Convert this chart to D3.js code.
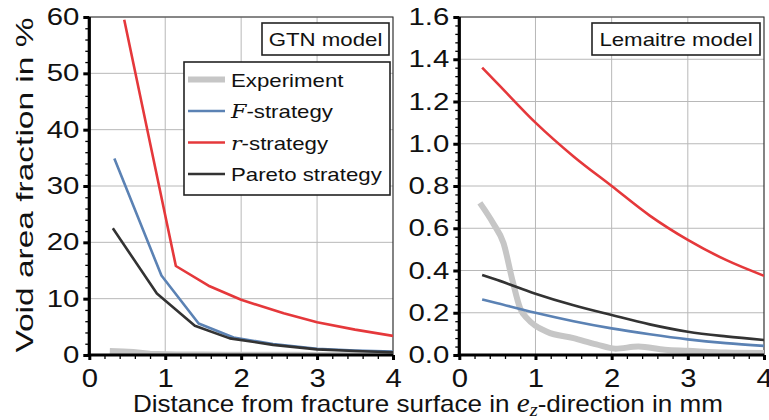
<!DOCTYPE html>
<html>
<head>
<meta charset="utf-8">
<script src="https://cdn.jsdelivr.net/npm/d3@7"></script>
<style>
  html, body { margin: 0; padding: 0; background: #fff; }
  svg { display: block; font-family: "Liberation Sans", Arial, sans-serif; }
</style>
</head>
<body>
<svg id="chart" width="769" height="420"></svg>
<script>
// ---- data -------------------------------------------------------------
const xTickValues = [0, 1, 2, 3, 4];
const gtnTickValues = [0, 10, 20, 30, 40, 50, 60];
const lemTickValues = [0, 0.2, 0.4, 0.6, 0.8, 1.0, 1.2, 1.4, 1.6];

// experimental void area fraction (%), shared by both panels
const expDist = [0.27, 0.45, 0.58, 0.70, 0.80, 0.90, 1.15, 1.50, 1.80, 2.05, 2.35, 2.70, 3.00, 3.50, 4.00];
const expVoid = [0.72, 0.62, 0.53, 0.35, 0.22, 0.17, 0.11, 0.08, 0.05, 0.03, 0.04, 0.025, 0.02, 0.012, 0.01];

// GTN model
const gtnFDist = [0.33, 0.95, 1.44, 1.90, 2.42, 3.00, 3.50, 4.00];
const gtnFVoid = [34.9, 14.1, 5.6, 3.1, 1.95, 1.1, 0.8, 0.6];
const gtnRDist = [0.46, 1.14, 1.57, 2.00, 2.56, 3.00, 3.50, 4.00];
const gtnRVoid = [59.5, 15.8, 12.3, 9.8, 7.4, 5.8, 4.5, 3.4];
const gtnPDist = [0.31, 0.89, 1.39, 1.85, 2.42, 3.00, 3.50, 4.00];
const gtnPVoid = [22.5, 10.9, 5.2, 2.95, 1.8, 1.0, 0.7, 0.5];

// Lemaitre model
const lemDist = [0.30, 0.50, 1.00, 1.50, 2.00, 2.50, 3.00, 3.50, 4.00];
const lemRVoid = [1.36, 1.286, 1.10, 0.94, 0.80, 0.66, 0.545, 0.45, 0.375];
const lemFVoid = [0.263, 0.245, 0.20, 0.16, 0.126, 0.098, 0.074, 0.056, 0.043];
const lemPVoid = [0.379, 0.355, 0.29, 0.235, 0.189, 0.145, 0.11, 0.088, 0.071];

const colors = { exp: "#c6c6c6", F: "#5b82b4", r: "#e5383b", pareto: "#333333" };

// ---- helpers ----------------------------------------------------------
const svg = d3.select("#chart");
const zip = (xs, ys) => xs.map((x, i) => [x, ys[i]]);
const TEXT = "#111";
const WIDE = 1.17;           // horizontal widening of the lettering

function widen(sel, k = WIDE) {
  sel.each(function () {
    const w = this.getComputedTextLength();
    d3.select(this).attr("textLength", w * k).attr("lengthAdjust", "spacingAndGlyphs");
  });
}

// ---- panels -----------------------------------------------------------
function panel(cfg) {
  const x = d3.scaleLinear().domain([0, 4]).range([cfg.x0, cfg.x1]);
  const y = d3.scaleLinear().domain([0, cfg.yMax]).range([355, 17]);
  const g = svg.append("g");

  // grid
  g.append("g").selectAll("line").data(xTickValues.slice(1, -1)).join("line")
    .attr("x1", d => x(d)).attr("x2", d => x(d))
    .attr("y1", y(0)).attr("y2", y(cfg.yMax))
    .attr("stroke", "#b8b8b8").attr("stroke-width", 1);
  g.append("g").selectAll("line").data(cfg.yTicks.slice(1)).join("line")
    .attr("x1", x(0)).attr("x2", x(4))
    .attr("y1", d => y(d)).attr("y2", d => y(d))
    .attr("stroke", "#b8b8b8").attr("stroke-width", 1);

  // frame (top and right)
  g.append("path")
    .attr("d", `M${x(0)},${y(cfg.yMax)}H${x(4)}V${y(0)}`)
    .attr("fill", "none").attr("stroke", "#333").attr("stroke-width", 1.2);

  // clip for the data lines
  const clipId = "clip-" + cfg.id;
  svg.append("clipPath").attr("id", clipId).append("rect")
    .attr("x", x(0)).attr("y", y(cfg.yMax))
    .attr("width", x(4) - x(0)).attr("height", y(0) - y(cfg.yMax));

  const line = d3.line().x(d => x(d[0])).y(d => y(d[1])).curve(cfg.curve);
  const series = [
    { pts: zip(expDist, expVoid), c: colors.exp, w: 6 },
    { pts: cfg.F, c: colors.F, w: 2.6 },
    { pts: cfg.R, c: colors.r, w: 2.6 },
    { pts: cfg.P, c: colors.pareto, w: 2.6 }
  ];
  g.append("g").attr("clip-path", `url(#${clipId})`)
    .selectAll("path").data(series).join("path")
    .attr("d", d => line(d.pts))
    .attr("fill", "none")
    .attr("stroke", d => d.c)
    .attr("stroke-width", d => d.w)
    .attr("stroke-linejoin", "round");

  // axes
  const minorX = d3.range(0, 4.001, 0.2).filter(v => Math.abs(v - Math.round(v)) > 1e-6);
  const minorY = d3.range(0, cfg.yMax + 1e-9, cfg.yMinor)
    .filter(v => !cfg.yTicks.some(t => Math.abs(t - v) < 1e-9));

  g.append("g").attr("transform", `translate(0,${y(0)})`)
    .call(d3.axisBottom(x).tickValues(minorX).tickSize(4).tickFormat(""))
    .call(a => a.select(".domain").remove())
    .selectAll(".tick line").attr("stroke", "#000").attr("stroke-width", 1.3);
  g.append("g").attr("transform", `translate(${x(0)},0)`)
    .call(d3.axisLeft(y).tickValues(minorY).tickSize(4).tickFormat(""))
    .call(a => a.select(".domain").remove())
    .selectAll(".tick line").attr("stroke", "#000").attr("stroke-width", 1.3);

  const xAxis = g.append("g").attr("transform", `translate(0,${y(0)})`)
    .call(d3.axisBottom(x).tickValues(xTickValues).tickSize(5).tickPadding(9)
      .tickFormat(d3.format("d")));
  xAxis.selectAll(".tick line").attr("stroke", "#000").attr("stroke-width", 3);
  xAxis.selectAll(".tick text").attr("font-size", 25).attr("fill", TEXT)
    .attr("font-family", "Liberation Sans, Arial, sans-serif").call(widen);

  const yAxis = g.append("g").attr("transform", `translate(${x(0)},0)`)
    .call(d3.axisLeft(y).tickValues(cfg.yTicks).tickSize(6).tickPadding(4).tickFormat(cfg.fmt));
  yAxis.selectAll(".tick line").attr("stroke", "#000").attr("stroke-width", 3);
  yAxis.selectAll(".tick text").attr("font-size", 23.5).attr("fill", TEXT)
    .attr("font-family", "Liberation Sans, Arial, sans-serif").call(widen, 1.25);

  xAxis.select(".domain").attr("stroke", "#000").attr("stroke-width", 3.2)
    .attr("d", `M${x(0) - 1.5},0H${x(4)}`);
  yAxis.select(".domain").attr("stroke", "#000").attr("stroke-width", 3.2)
    .attr("d", `M0,${y(0) + 1.5}V${y(cfg.yMax)}`);

  // model label box
  const lb = g.append("g");
  lb.append("rect")
    .attr("x", cfg.box[0]).attr("y", 23).attr("width", cfg.box[1]).attr("height", 32)
    .attr("fill", "#fff").attr("stroke", "#222").attr("stroke-width", 1.6);
  lb.append("text")
    .attr("x", cfg.box[0] + cfg.box[1] / 2).attr("y", 46)
    .attr("text-anchor", "middle").attr("font-size", 19).attr("fill", TEXT)
    .text(cfg.label).call(widen);

  return { x, y, g };
}

panel({
  id: "gtn", x0: 89.3, x1: 393, yMax: 60, yTicks: gtnTickValues, yMinor: 2,
  fmt: d3.format("d"), curve: d3.curveLinear, label: "GTN model", box: [262, 127],
  F: zip(gtnFDist, gtnFVoid), R: zip(gtnRDist, gtnRVoid), P: zip(gtnPDist, gtnPVoid)
});

panel({
  id: "lem", x0: 459.3, x1: 764, yMax: 1.6, yTicks: lemTickValues, yMinor: 0.04,
  fmt: d3.format(".1f"), curve: d3.curveMonotoneX, label: "Lemaitre model", box: [592, 168],
  F: zip(lemDist, lemFVoid), R: zip(lemDist, lemRVoid), P: zip(lemDist, lemPVoid)
});

// ---- legend (inside the GTN panel) ------------------------------------
const legendItems = [
  { key: "exp", w: 6, parts: [["Experiment", false]] },
  { key: "F", w: 2.6, parts: [["F", true], ["-strategy", false]] },
  { key: "r", w: 2.6, parts: [["r", true], ["-strategy", false]] },
  { key: "pareto", w: 2.6, parts: [["Pareto strategy", false]] }
];
const lg = svg.append("g");
lg.append("rect").attr("x", 184).attr("y", 62).attr("width", 206).attr("height", 133)
  .attr("fill", "#fff").attr("stroke", "#222").attr("stroke-width", 1.6);
const rows = lg.selectAll("g.row").data(legendItems).join("g")
  .attr("transform", (d, i) => `translate(0,${79.5 + i * 31.5})`);
rows.append("line").attr("x1", 188).attr("x2", 225).attr("y1", 0).attr("y2", 0)
  .attr("stroke", d => colors[d.key]).attr("stroke-width", d => d.w);
const lt = rows.append("text").attr("x", 231).attr("y", 7).attr("font-size", 19).attr("fill", TEXT);
lt.selectAll("tspan").data(d => d.parts).join("tspan")
  .attr("font-family", d => d[1] ? "DejaVu Serif, Liberation Serif, serif" : null)
  .attr("font-style", d => d[1] ? "italic" : null)
  .text(d => d[0]);
lt.call(widen);

// ---- axis titles ------------------------------------------------------
svg.append("text")
  .attr("transform", "translate(33,185) rotate(-90)")
  .attr("text-anchor", "middle").attr("font-size", 24.5).attr("fill", TEXT)
  .attr("textLength", 335).attr("lengthAdjust", "spacingAndGlyphs")
  .text("Void area fraction in %");

const xt = svg.append("text")
  .attr("x", 428).attr("y", 411.5).attr("text-anchor", "middle")
  .attr("font-size", 24).attr("fill", TEXT)
  .attr("textLength", 590).attr("lengthAdjust", "spacingAndGlyphs");
xt.append("tspan").text("Distance from fracture surface in ");
xt.append("tspan").attr("font-family", "Liberation Serif, DejaVu Serif, serif")
  .attr("font-style", "italic").attr("font-size", 27).text("e");
xt.append("tspan").attr("font-family", "Liberation Serif, DejaVu Serif, serif")
  .attr("font-style", "italic").attr("font-size", 19).attr("dy", 4).text("z");
xt.append("tspan").attr("dy", -4).text("-direction in mm");
</script>
</body>
</html>
